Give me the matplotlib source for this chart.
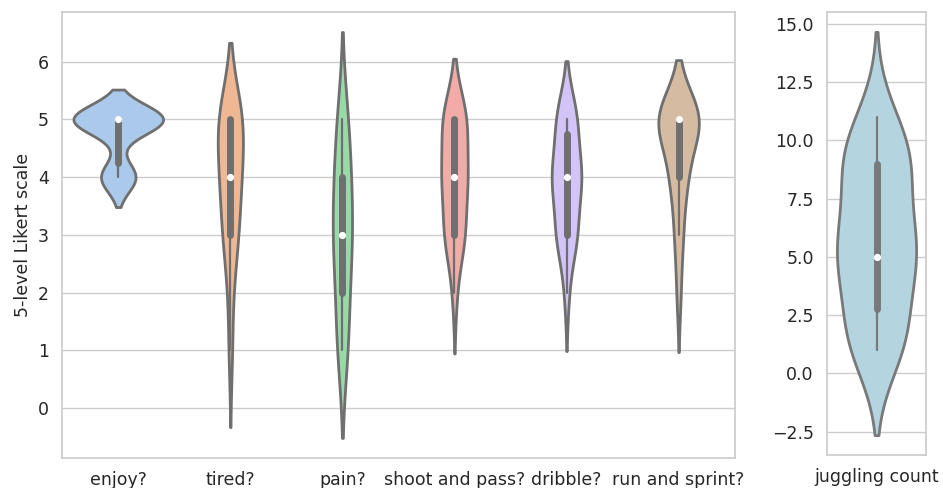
import matplotlib
matplotlib.use("Agg")
import matplotlib.pyplot as plt
import seaborn as sns
import pandas as pd

# survey answers (5-level Likert), one list per question
questions = ["enjoy?", "tired?", "pain?", "shoot and pass?", "dribble?", "run and sprint?"]
enjoy = [4, 4, 4, 4, 4, 5, 5, 5, 5, 5, 5, 5, 5, 5, 5, 5, 5, 5]
tired = [1, 2, 3, 3, 3, 3, 4, 4, 4, 4, 4, 5, 5, 5, 5, 5, 5, 5]
pain = [1, 1, 1, 2, 2, 2, 3, 3, 3, 3, 3, 4, 4, 4, 4, 5, 5, 5]
shoot = [2, 3, 3, 3, 3, 3, 4, 4, 4, 4, 4, 4, 5, 5, 5, 5, 5, 5]
dribble = [2, 3, 3, 3, 3, 3, 4, 4, 4, 4, 4, 4, 4, 5, 5, 5, 5, 5]
sprint = [2, 3, 3, 4, 4, 4, 4, 5, 5, 5, 5, 5, 5, 5, 5, 5, 5, 5]

juggling = [1, 1, 2, 2, 2, 5, 5, 5, 5, 5, 6, 7, 9, 9, 9, 9, 10, 11]

sns.set_theme(style="whitegrid")
plt.rcParams['font.family'] = ['DejaVu Sans']

answers = [enjoy, tired, pain, shoot, dribble, sprint]
rows = []
for q, vals in zip(questions, answers):
    for v in vals:
        rows.append((q, v))
df = pd.DataFrame(rows, columns=["question", "answer"])
df_jug = pd.DataFrame({"item": "juggling count", "count": juggling})

fig = plt.figure(figsize=(9.43, 4.88), dpi=100)
ax1 = fig.add_axes([0.066, 0.061, 0.713, 0.915])
ax2 = fig.add_axes([0.877, 0.067, 0.105, 0.909])

box_style = dict(box_width=5, whis_width=1.6, marker="o")
sns.violinplot(data=df, x="question", y="answer", hue="question",
               palette="pastel", legend=False, inner="box", linewidth=2,
               common_norm=True, inner_kws=box_style, ax=ax1)
sns.violinplot(data=df_jug, x="item", y="count", color="lightblue",
               inner="box", linewidth=2, inner_kws=box_style, ax=ax2)

ax1.set_xlabel("")
ax1.set_ylabel("5-level Likert scale", fontsize=12.5)
ax2.set_xlabel("")
ax2.set_ylabel("")
for ax in (ax1, ax2):
    ax.tick_params(labelsize=12.5)

fig.savefig("out.png", dpi=100)
